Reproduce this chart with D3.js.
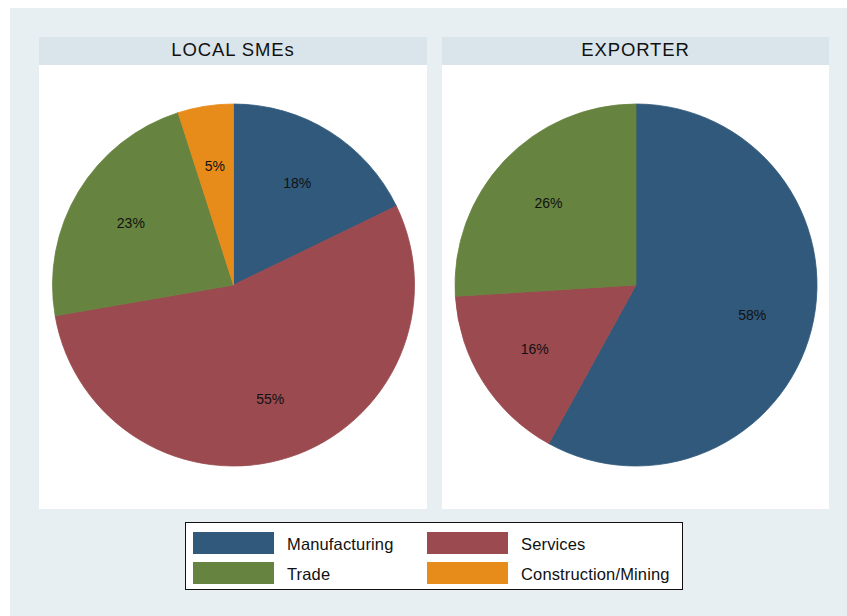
<!DOCTYPE html>
<html>
<head>
<meta charset="utf-8">
<script src="https://cdn.jsdelivr.net/npm/d3@7"></script>
<style>
  html, body { margin: 0; padding: 0; background: #ffffff; }
  svg { display: block; font-family: "Liberation Sans", Arial, sans-serif; }
</style>
</head>
<body>
<svg id="chart" width="847" height="616"></svg>
<script>
// Sector categories and their fill colours
const categories = ["Manufacturing", "Services", "Trade", "Construction/Mining"];
const colors = ["#30597c", "#9b4a4f", "#66833f", "#e78b1b"];

// Panel titles
const panels = ["LOCAL SMEs", "EXPORTER"];

// Share of firms (%) by sector, per panel
const localShares = [18, 55, 23, 5];
const exporterShares = [58, 16, 26, 0];

const svg = d3.select("#chart");

// outer graph region
svg.append("rect").attr("x", 10).attr("y", 8).attr("width", 837).attr("height", 608)
  .attr("fill", "#e8eff2");

const panelLayout = [
  { x: 39, w: 388, values: localShares },
  { x: 442, w: 387, values: exporterShares }
];
const headerTop = 37, headerH = 28, plotBottom = 509;

const color = d3.scaleOrdinal().domain(categories).range(colors);
const pie = d3.pie().sort(null).value(d => d.value)
  .startAngle(0).endAngle(2 * Math.PI);
const radius = 181;
const arc = d3.arc().innerRadius(0).outerRadius(radius);
const labelArc = d3.arc().innerRadius(120).outerRadius(120);

panelLayout.forEach((p, i) => {
  const g = svg.append("g");
  g.append("rect").attr("x", p.x).attr("y", headerTop).attr("width", p.w).attr("height", headerH)
    .attr("fill", "#d9e5eb");
  g.append("rect").attr("x", p.x).attr("y", headerTop + headerH).attr("width", p.w)
    .attr("height", plotBottom - headerTop - headerH).attr("fill", "#ffffff");
  g.append("text").attr("x", p.x + p.w / 2).attr("y", headerTop + 19)
    .attr("text-anchor", "middle").attr("font-size", 18.5).attr("letter-spacing", 0.9)
    .attr("fill", "#111")
    .text(panels[i]);

  const data = categories.map((c, k) => ({ cat: c, value: p.values[k] }));
  const arcs = pie(data).filter(d => d.data.value > 0);
  const cx = p.x + p.w / 2 + 0.5, cy = 285;
  const pg = g.append("g").attr("transform", `translate(${cx},${cy})`);
  pg.selectAll("path.slice").data(arcs).join("path")
    .attr("class", "slice")
    .attr("d", arc)
    .attr("fill", d => color(d.data.cat))
    .attr("stroke", d => color(d.data.cat))
    .attr("stroke-width", 0.8);
  pg.selectAll("text.lbl").data(arcs).join("text")
    .attr("class", "lbl")
    .attr("transform", d => `translate(${labelArc.centroid(d)})`)
    .attr("text-anchor", "middle").attr("dy", "0.35em")
    .attr("font-size", 14).attr("fill", "#111")
    .text(d => d.data.value + "%");
});

// legend
const lg = svg.append("g");
lg.append("rect").attr("x", 185.5).attr("y", 522.5).attr("width", 497).attr("height", 67)
  .attr("fill", "#ffffff").attr("stroke", "#111").attr("stroke-width", 1);
const colX = [193, 427], rowY = [532, 562];
categories.forEach((c, k) => {
  const cx = colX[k % 2], cy = rowY[Math.floor(k / 2)];
  lg.append("rect").attr("x", cx).attr("y", cy).attr("width", 81).attr("height", 22)
    .attr("fill", color(c));
  lg.append("text").attr("x", cx + 94).attr("y", cy + 18)
    .attr("font-size", 16.5).attr("letter-spacing", 0.15).attr("fill", "#111").text(c);
});
</script>
</body>
</html>
